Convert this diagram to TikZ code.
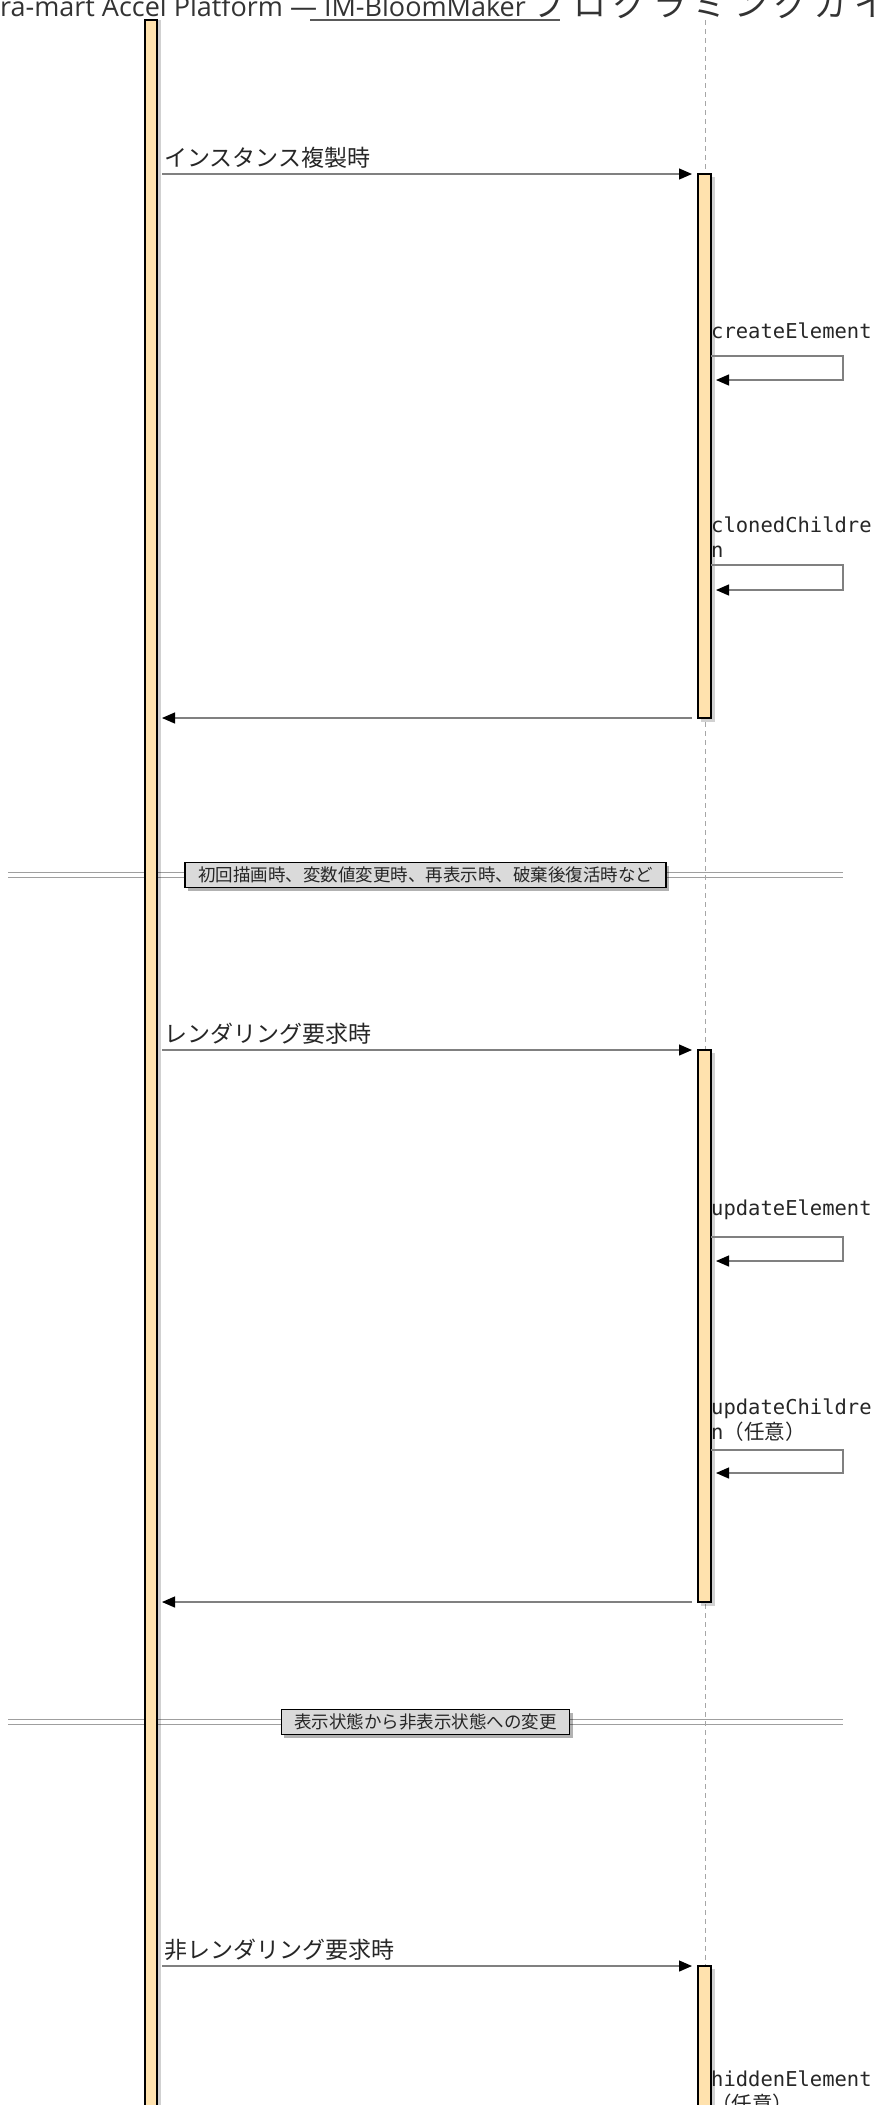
\documentclass[tikz,border=0pt]{standalone}
\usepackage{fontspec}
\setmainfont{Open Sans}
\setmonofont{DejaVu Sans Mono}
\newfontfamily\cjk{Noto Sans CJK JP}
\usetikzlibrary{arrows.meta,shadows}

\definecolor{actfill}{HTML}{FFE2AE}
\definecolor{msgline}{HTML}{808080}
\definecolor{divfill}{HTML}{DADADA}

\tikzset{
  msg/.style={draw=msgline, line width=1.3pt,
    -{Triangle[length=13pt,width=11pt,color=black]}},
  msglabel/.style={anchor=base west, inner sep=0pt, text=black!85,
    font=\cjk\fontsize{23}{27}\selectfont},
  selflabel/.style={anchor=base west, inner sep=0pt, align=left, text=black!85,
    font=\ttfamily\fontsize{20.5}{25}\selectfont},
  actbox/.style={fill=actfill, draw=black, line width=1.3pt},
  dropshade/.style={fill=black, opacity=.18},
  lifeline/.style={draw=gray!70, line width=1pt, dash pattern=on 5pt off 4pt},
  divline/.style={draw=gray!75, line width=1.2pt, double=white, double distance=3.6pt},
  divbox/.style={fill=divfill, draw=black, line width=1.2pt, inner xsep=13pt,
    inner ysep=0pt, minimum height=25pt, text=black!85,
    font=\cjk\fontsize{17.5}{20}\selectfont,
    drop shadow={shadow xshift=3pt, shadow yshift=-3pt, opacity=.3, fill=black}},
}

\begin{document}
\begin{tikzpicture}[x=1pt,y=-1pt]
  \useasboundingbox (0,0) rectangle (879,2105);
  \clip (0,0) rectangle (879,2105);

  %% page title, cut off by the crop
  \node[anchor=base west, inner sep=0pt, text=black!80,
    font=\fontsize{27}{30}\selectfont] (title) at (-33,16)
    {intra-mart Accel Platform — IM-BloomMaker
     {\cjk\fontsize{33}{36}\selectfont\addfontfeature{LetterSpace=22}プログラミングガイド}};
  \coordinate (head l) at (310,20);
  \coordinate (head r) at (560,20);
  \draw[line width=2.5pt, draw=black!65] (head l) -- (head r);

  %% divider lines
  \coordinate (div1 l) at (8,875);
  \coordinate (div1 r) at (843,875);
  \draw[divline] (div1 l) -- (div1 r);
  \coordinate (div2 l) at (8,1722);
  \coordinate (div2 r) at (843,1722);
  \draw[divline] (div2 l) -- (div2 r);

  %% lifelines
  \draw[lifeline] (705,20) -- (705,2105);
  \fill[dropshade] (148,20) rectangle (161,2110);
  \draw[actbox] (145,20) rectangle (157,2110);

  %% cloning
  \begin{scope}[shift={(0,174)}]
    \fill[dropshade] (701,3) rectangle (715,548);
    \draw[actbox] (698,0) rectangle (711,544);
    \coordinate (clone from) at (162,0);
    \coordinate (clone to) at (692,0);
    \draw[msg] (clone from) -- (clone to);
    \node[msglabel] (clone label) at (164,-8) {インスタンス複製時};

    \coordinate (create a) at (711,182);
    \coordinate (create b) at (843,206);
    \coordinate (create c) at (716,206);
    \node[selflabel] (create label) at (711,164) {createElement};
    \draw[msg] (create a) -| (create b) -- (create c);

    \coordinate (children a) at (711,391);
    \coordinate (children b) at (843,416);
    \coordinate (children c) at (716,416);
    \node[selflabel, anchor=north west] (children label) at (711,343) {clonedChildre\\n};
    \draw[msg] (children a) -| (children b) -- (children c);

    \coordinate (clone back) at (692,544);
    \coordinate (clone end) at (162,544);
    \draw[msg] (clone back) -- (clone end);
  \end{scope}

  \node[divbox] (div1 box) at (425.5,875) {初回描画時、変数値変更時、再表示時、破棄後復活時など};

  %% rendering
  \begin{scope}[shift={(0,1050)}]
    \fill[dropshade] (701,3) rectangle (715,556);
    \draw[actbox] (698,0) rectangle (711,552);
    \coordinate (render from) at (162,0);
    \coordinate (render to) at (692,0);
    \draw[msg] (render from) -- (render to);
    \node[msglabel] (render label) at (164,-8) {レンダリング要求時};

    \coordinate (update a) at (711,187);
    \coordinate (update b) at (843,211);
    \coordinate (update c) at (716,211);
    \node[selflabel] (update label) at (711,165) {updateElement};
    \draw[msg] (update a) -| (update b) -- (update c);

    \coordinate (upchild a) at (711,400);
    \coordinate (upchild b) at (843,423);
    \coordinate (upchild c) at (716,423);
    \node[selflabel, anchor=north west] (upchild label) at (711,349) {updateChildre\\n{\cjk （任意）}};
    \draw[msg] (upchild a) -| (upchild b) -- (upchild c);

    \coordinate (render back) at (692,552);
    \coordinate (render end) at (162,552);
    \draw[msg] (render back) -- (render end);
  \end{scope}

  \node[divbox] (div2 box) at (425.5,1722) {表示状態から非表示状態への変更};

  %% hiding
  \begin{scope}[shift={(0,1966)}]
    \fill[dropshade] (701,3) rectangle (715,200);
    \draw[actbox] (698,0) rectangle (711,200);
    \coordinate (hide from) at (162,0);
    \coordinate (hide to) at (692,0);
    \draw[msg] (hide from) -- (hide to);
    \node[msglabel] (hide label) at (164,-8) {非レンダリング要求時};

    \node[selflabel, anchor=north west] (hidden label) at (711,105) {hiddenElement\\{\cjk （任意）}};
  \end{scope}
\end{tikzpicture}
\end{document}
